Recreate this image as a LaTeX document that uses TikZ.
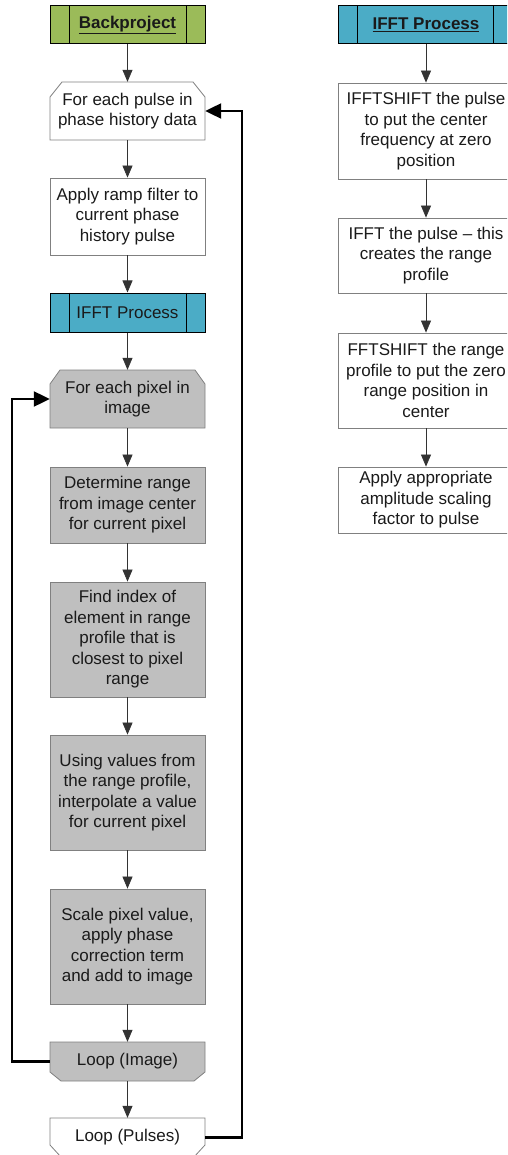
\documentclass[tikz,border=0pt]{standalone}
\usepackage{fontspec}
\setmainfont{Liberation Sans}
\usetikzlibrary{arrows.meta}
\definecolor{hdrgreen}{HTML}{9BBB59}
\definecolor{hdrteal}{HTML}{4BACC6}
\definecolor{boxgray}{HTML}{BFBFBF}
\definecolor{edgegray}{HTML}{808080}
\definecolor{txt}{HTML}{1A1A1A}
\begin{document}
\begin{tikzpicture}[x=1pt,y=-1pt,
  every node/.style={font=\fontsize{17}{20.5}\selectfont, text=txt, align=center, inner sep=0pt},
  lbox/.style={minimum width=155pt},
  rbox/.style={minimum width=176pt},
  plain/.style={draw=edgegray, line width=0.8pt, fill=white},
  grey/.style={draw=edgegray, line width=0.8pt, fill=boxgray},
  hdr/.style={draw=black, line width=1pt},
  arr/.style={draw=black!80, line width=0.7pt, -{Triangle[width=10pt,length=12pt]}},
  loopline/.style={draw=black, line width=2.2pt, -{Triangle[width=15pt,length=16pt]}},
]
\useasboundingbox (0,0) rectangle (507,1155);
\clip (0,0) rectangle (507,1155);

% ---- chamfered shapes (drawn first, text nodes placed on top) ----
\path[plain] (50,97) -- (62,82) -- (193,82) -- (205,97) -- (205,140) -- (50,140) -- cycle;
\path[grey] (50,384) -- (60,370) -- (195,370) -- (205,384) -- (205,428) -- (50,428) -- cycle;
\path[grey] (50,1042) -- (205,1042) -- (205,1072) -- (194,1081) -- (61,1081) -- (50,1072) -- cycle;
\path[plain] (50,1118) -- (205,1118) -- (205,1145) -- (194,1157) -- (61,1157) -- (50,1145) -- cycle;

% ---- left column ----
\node[lbox, hdr, fill=hdrgreen, minimum height=38pt] (bp) at (127.5,25) {\textbf{\underline{Backproject}}};
\draw[hdr] ([xshift=20pt]bp.north west) -- ([xshift=20pt]bp.south west);
\draw[hdr] ([xshift=-19pt]bp.north east) -- ([xshift=-19pt]bp.south east);

\node[lbox, minimum height=58pt] (pulse) at (127.5,111) {For each pulse in\\phase history data};
\node[lbox, plain, minimum height=77pt] (ramp) at (127.5,216.5) {Apply ramp filter to\\current phase\\history pulse};

\node[lbox, hdr, fill=hdrteal, minimum height=39pt] (ifftL) at (127.5,312.5) {IFFT Process};
\draw[hdr] ([xshift=20pt]ifftL.north west) -- ([xshift=20pt]ifftL.south west);
\draw[hdr] ([xshift=-19pt]ifftL.north east) -- ([xshift=-19pt]ifftL.south east);

\node[lbox, minimum height=58pt] (pix) at (127.5,399) {For each pixel in\\image};
\node[lbox, grey, minimum height=76pt] (det) at (127.5,505) {Determine range\\from image center\\for current pixel};
\node[lbox, grey, minimum height=115pt] (find) at (127.5,639.5) {Find index of\\element in range\\profile that is\\closest to pixel\\range};
\node[lbox, grey, minimum height=115pt] (using) at (127.5,792.5) {Using values from\\the range profile,\\interpolate a value\\for current pixel};
\node[lbox, grey, minimum height=115pt] (scale) at (127.5,946.5) {Scale pixel value,\\apply phase\\correction term\\and add to image};
\node[lbox, minimum height=39pt] (loopimg) at (127.5,1061.5) {Loop (Image)};
\node[lbox, minimum height=39pt] (loopp) at (127.5,1137.5) {Loop (Pulses)};

\draw[arr] (bp) -- (pulse);
\draw[arr] (pulse) -- (ramp);
\draw[arr] (ramp) -- (ifftL);
\draw[arr] (ifftL) -- (pix);
\draw[arr] (pix) -- (det);
\draw[arr] (det) -- (find);
\draw[arr] (find) -- (using);
\draw[arr] (using) -- (scale);
\draw[arr] (scale) -- (loopimg);
\draw[arr] (loopimg) -- (loopp);

\draw[loopline] (loopimg.west) -- ++(-38,0) |- (pix.west);
\draw[loopline] (loopp.east) -- ++(37,0) |- (pulse.east);

% ---- right column ----
\node[rbox, hdr, fill=hdrteal, minimum height=38pt] (ifftR) at (426,25) {\textbf{\underline{IFFT Process}}};
\draw[hdr] ([xshift=20pt]ifftR.north west) -- ([xshift=20pt]ifftR.south west);
\draw[hdr] ([xshift=-21pt]ifftR.north east) -- ([xshift=-21pt]ifftR.south east);

\node[rbox, plain, minimum height=96pt] (s1) at (426,131) {IFFTSHIFT the pulse\\to put the center\\frequency at zero\\position};
\node[rbox, plain, minimum height=75pt] (s2) at (426,255.5) {IFFT the pulse -- this\\creates the range\\profile};
\node[rbox, plain, minimum height=95pt] (s3) at (426,380.5) {FFTSHIFT the range\\profile to put the zero\\range position in\\center};
\node[rbox, plain, minimum height=66pt] (s4) at (426,500) {Apply appropriate\\amplitude scaling\\factor to pulse};

\draw[arr] (ifftR) -- (s1);
\draw[arr] (s1) -- (s2);
\draw[arr] (s2) -- (s3);
\draw[arr] (s3) -- (s4);
\end{tikzpicture}
\end{document}
